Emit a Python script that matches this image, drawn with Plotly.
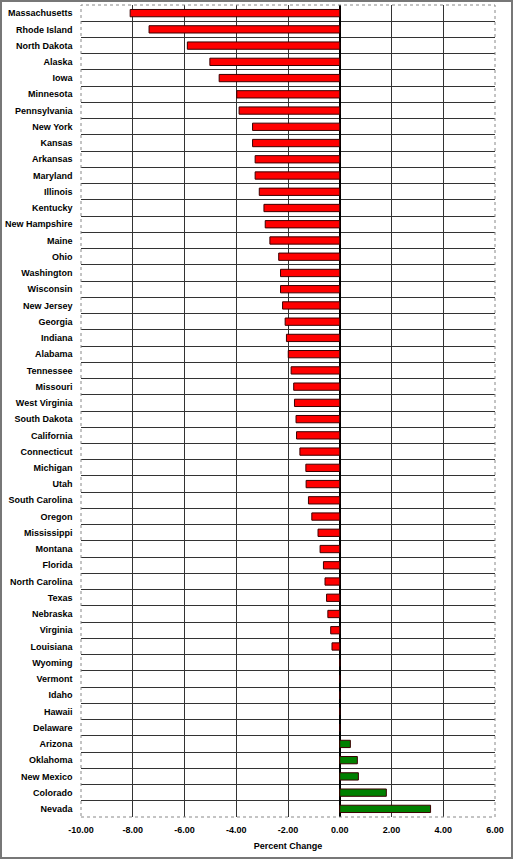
import plotly.graph_objects as go

states = ["Massachusetts", "Rhode Island", "North Dakota", "Alaska", "Iowa", "Minnesota",
          "Pennsylvania", "New York", "Kansas", "Arkansas", "Maryland", "Illinois",
          "Kentucky", "New Hampshire", "Maine", "Ohio", "Washington", "Wisconsin",
          "New Jersey", "Georgia", "Indiana", "Alabama", "Tennessee", "Missouri",
          "West Virginia", "South Dakota", "California", "Connecticut", "Michigan", "Utah",
          "South Carolina", "Oregon", "Mississippi", "Montana", "Florida", "North Carolina",
          "Texas", "Nebraska", "Virginia", "Louisiana", "Wyoming", "Vermont", "Idaho",
          "Hawaii", "Delaware", "Arizona", "Oklahoma", "New Mexico", "Colorado", "Nevada"]

pct_change = [-8.10, -7.37, -5.89, -5.02, -4.66, -3.98,
              -3.89, -3.37, -3.37, -3.27, -3.27, -3.11,
              -2.93, -2.88, -2.70, -2.36, -2.29, -2.29,
              -2.21, -2.11, -2.06, -1.99, -1.88, -1.78,
              -1.75, -1.69, -1.67, -1.54, -1.31, -1.30,
              -1.21, -1.08, -0.84, -0.76, -0.63, -0.57,
              -0.51, -0.46, -0.35, -0.30, 0.0, 0.0, 0.0,
              0.0, 0.0, 0.41, 0.68, 0.72, 1.80, 3.51]

x_ticks = [-10, -8, -6, -4, -2, 0, 2, 4, 6]
x_tick_labels = ["-10.00", "-8.00", "-6.00", "-4.00", "-2.00", "0.00", "2.00", "4.00", "6.00"]

colors = ["#008000" if v > 0 else "#FF0000" for v in pct_change]

fig = go.Figure(go.Bar(
    x=pct_change, y=states, orientation="h",
    marker=dict(color=colors, line=dict(color="#3a0000", width=1)),
))

W, H = 513, 859
ml, mr, mt, mb = 81, 18, 5, 42

fig.update_layout(
    width=W, height=H,
    margin=dict(l=ml, r=mr, t=mt, b=mb),
    paper_bgcolor="white", plot_bgcolor="white",
    bargap=0.55, showlegend=False,
    font=dict(family="Liberation Sans, Arial, sans-serif", size=9, color="black"),
    xaxis=dict(
        range=[-10, 6], tickvals=x_ticks, ticktext=x_tick_labels,
        showgrid=True, gridcolor="#333333", gridwidth=1,
        zeroline=True, zerolinecolor="black", zerolinewidth=2,
        tickfont=dict(size=9, family="Liberation Sans", weight="bold"),
        title=dict(text="<b>Percent Change</b>", font=dict(size=9), standoff=8),
        ticks="outside", ticklen=4, tickcolor="rgba(0,0,0,0)",
        showline=False, fixedrange=True,
    ),
    yaxis=dict(
        type="category", autorange="reversed",
        tickson="boundaries", showgrid=True, gridcolor="#333333", gridwidth=1,
        tickfont=dict(size=9, family="Liberation Sans", weight="bold"),
        ticksuffix="\u00a0\u00a0\u00a0",
        ticks="", showline=False, fixedrange=True,
    ),
    shapes=[
        dict(type="rect", xref="paper", yref="paper", x0=0, x1=1, y0=0, y1=1,
             line=dict(color="#888888", width=1, dash="dot"), layer="above"),
        dict(type="rect", xref="paper", yref="paper",
             x0=-(ml - 1) / (W - ml - mr), x1=1 + (mr - 1) / (W - ml - mr),
             y0=-(mb - 1) / (H - mt - mb), y1=1 + (mt - 1) / (H - mt - mb),
             line=dict(color="#777777", width=2), layer="above"),
    ],
)

fig.write_html("out.html", config={"displayModeBar": False},
               post_script="document.body.style.margin='0';document.body.style.overflow='hidden';")
